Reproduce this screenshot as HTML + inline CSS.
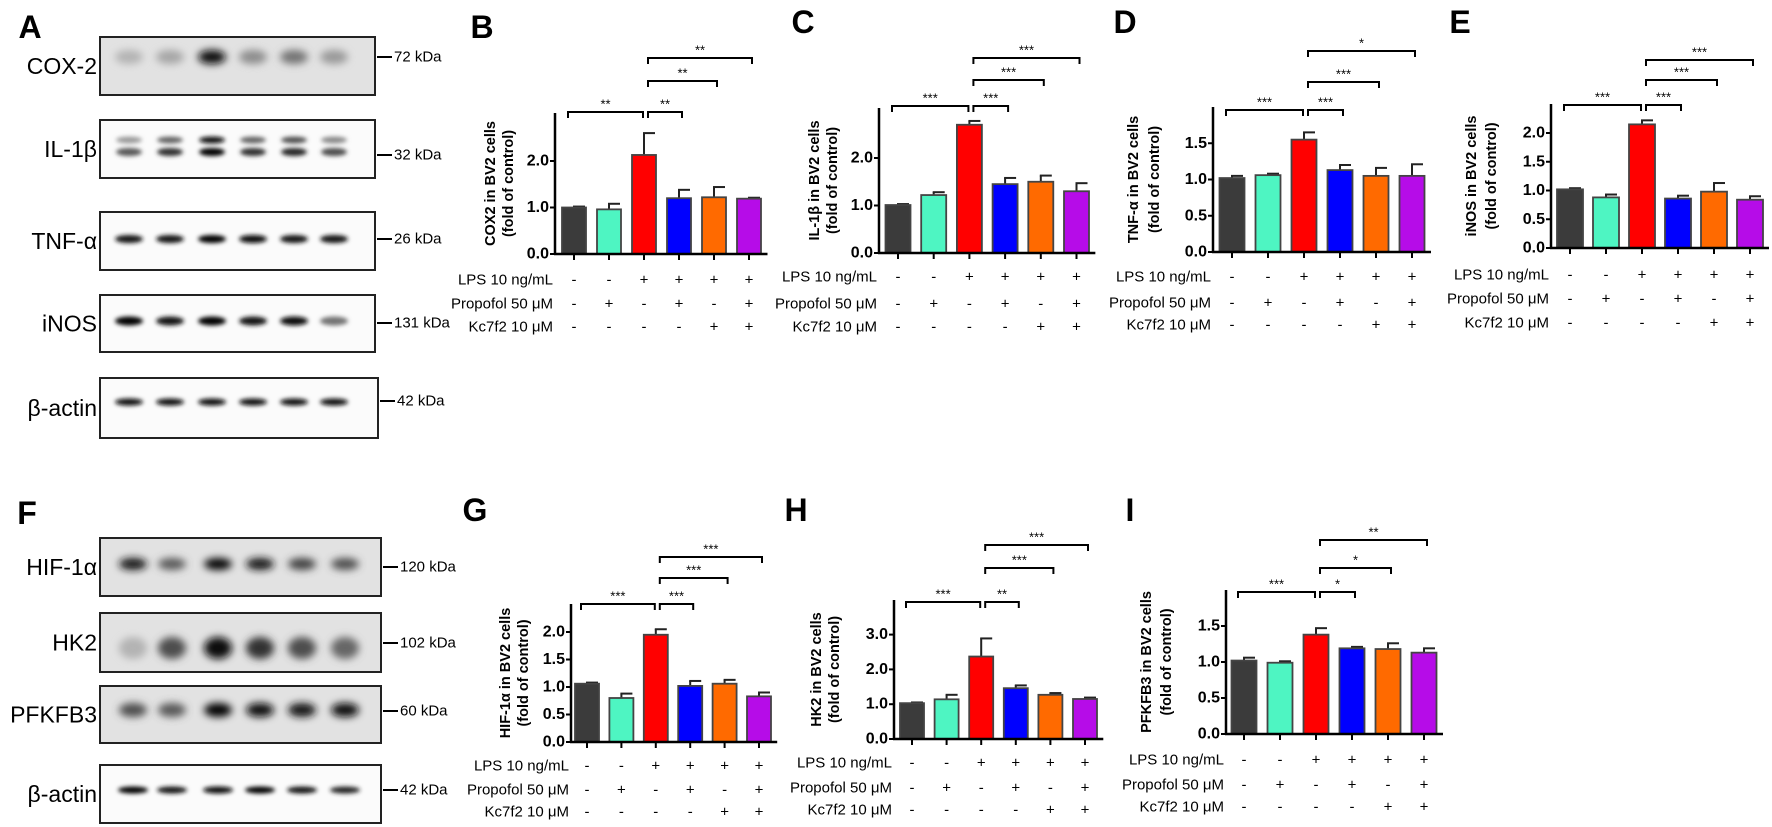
<!DOCTYPE html>
<html><head><meta charset="utf-8"><style>
html,body{margin:0;padding:0;background:#fff;}
svg{display:block;font-family:"Liberation Sans",Arial,sans-serif;}
</style></head><body>
<svg id="fig" width="1772" height="827" viewBox="0 0 1772 827" xmlns="http://www.w3.org/2000/svg">
<defs>
<filter id="blur2" x="-50%" y="-100%" width="200%" height="300%"><feGaussianBlur stdDeviation="2"/></filter>
<filter id="blur4" x="-50%" y="-100%" width="200%" height="300%"><feGaussianBlur stdDeviation="4"/></filter>
</defs>
</svg>
<script>
// ---------- chart data ----------
const groups = ["Control","Propofol","LPS","LPS+Propofol","LPS+Kc7f2","LPS+Propofol+Kc7f2"];
const lpsSigns = ["-","-","+","+","+","+"];
const propofolSigns = ["-","+","-","+","-","+"];
const kc7f2Signs = ["-","-","-","-","+","+"];
const barColors = ["#3b3b3b","#4ef5c2","#ff0000","#0000ff","#ff6a00","#b60ce8"];

const bValues = [1.00,0.96,2.13,1.20,1.22,1.19];
const bErrors = [0.02,0.12,0.47,0.18,0.22,0.02];
const bTicks = [0,1,2];
const bTickLabels = ["0.0","1.0","2.0"];
const bStars = ["**","**","**","**"];

const cValues = [1.01,1.22,2.70,1.45,1.50,1.30];
const cErrors = [0.02,0.06,0.08,0.13,0.13,0.17];
const cTicks = [0,1,2];
const cTickLabels = ["0.0","1.0","2.0"];
const cStars = ["***","***","***","***"];

const dValues = [1.02,1.06,1.55,1.13,1.05,1.05];
const dErrors = [0.03,0.02,0.10,0.07,0.11,0.16];
const dTicks = [0,0.5,1,1.5];
const dTickLabels = ["0.0","0.5","1.0","1.5"];
const dStars = ["***","***","***","*"];

const eValues = [1.02,0.88,2.15,0.86,0.98,0.84];
const eErrors = [0.02,0.05,0.07,0.05,0.15,0.06];
const eTicks = [0,0.5,1,1.5,2];
const eTickLabels = ["0.0","0.5","1.0","1.5","2.0"];
const eStars = ["***","***","***","***"];

const gValues = [1.06,0.80,1.95,1.02,1.06,0.83];
const gErrors = [0.02,0.08,0.10,0.09,0.07,0.07];
const gTicks = [0,0.5,1,1.5,2];
const gTickLabels = ["0.0","0.5","1.0","1.5","2.0"];
const gStars = ["***","***","***","***"];

const hValues = [1.03,1.14,2.37,1.46,1.27,1.15];
const hErrors = [0.02,0.13,0.52,0.08,0.05,0.04];
const hTicks = [0,1,2,3];
const hTickLabels = ["0.0","1.0","2.0","3.0"];
const hStars = ["***","**","***","***"];

const iValues = [1.02,0.99,1.38,1.19,1.18,1.13];
const iErrors = [0.04,0.02,0.09,0.02,0.08,0.06];
const iTicks = [0,0.5,1,1.5];
const iTickLabels = ["0.0","0.5","1.0","1.5"];
const iStars = ["***","*","*","**"];

// blot band intensities (0..1) per lane
const cox2Bands = [0.3,0.35,0.95,0.45,0.55,0.4];
const il1bBands = [0.65,0.8,1.0,0.8,0.85,0.7];
const tnfBands = [0.9,0.9,1.0,0.95,0.9,0.9];
const inosBands = [1.0,0.9,1.0,0.9,0.95,0.55];
const actinABands = [0.95,0.95,0.95,0.95,0.95,0.95];
const hifBands = [0.9,0.65,1.0,0.9,0.75,0.7];
const hk2Bands = [0.3,0.7,0.95,0.8,0.7,0.6];
const pfkBands = [0.7,0.65,1.0,0.95,0.9,0.95];
const actinFBands = [1.0,0.9,0.95,1.0,0.9,0.85];

// ---------- drawing ----------
const NS = "http://www.w3.org/2000/svg";
const svg = document.getElementById("fig");
function mk(tag, attrs, parent) {
  const e = document.createElementNS(NS, tag);
  for (const k in attrs) e.setAttribute(k, attrs[k]);
  (parent || svg).appendChild(e);
  return e;
}
function txt(str, attrs, parent) { const t = mk("text", attrs, parent); t.textContent = str; return t; }

function drawPanel(cfg, values, errors, ticks, tickLabels, stars) {
  const g = mk("g", {});
  
  
  const yScale = v => cfg.base - v * cfg.ppu;
  const xScale = i => cfg.x0 + i * cfg.step;
  const L = txt(cfg.id.toUpperCase(), {x: cfg.lx, y: cfg.ly, "font-size": 32, "font-weight": "bold", "text-anchor": "middle", "dominant-baseline": "central"}, g);
  
  
  values.forEach((v, i) => {
    const cx = xScale(i);
    const top = yScale(v);
    const eTop = yScale(v + errors[i]);
    const el = mk("line", {x1: cx, x2: cx, y1: top, y2: eTop, stroke: "#222", "stroke-width": 2}, g);
    
    
    const cap = mk("line", {x1: cx - 1, x2: cx + 11, y1: eTop, y2: eTop, stroke: "#222", "stroke-width": 2}, g);
    
    
    const r = mk("rect", {x: cx - cfg.bw / 2, y: top, width: cfg.bw, height: cfg.base - top, fill: barColors[i], stroke: "#444", "stroke-width": 1.8}, g);
    
    
    const tk = mk("line", {x1: cx, x2: cx, y1: cfg.base, y2: cfg.base + 6, stroke: "#000", "stroke-width": 2}, g);
    
    
  });
  const ya = mk("line", {x1: cfg.ax, x2: cfg.ax, y1: cfg.top, y2: cfg.base + 1, stroke: "#000", "stroke-width": 2.5}, g);
  
  
  const xa = mk("line", {x1: cfg.ax - 1, x2: xScale(5) + cfg.step / 2 + 1, y1: cfg.base, y2: cfg.base, stroke: "#000", "stroke-width": 2.5}, g);
  
  
  ticks.forEach((t, k) => {
    const y = yScale(t);
    const tl = mk("line", {x1: cfg.ax - 5, x2: cfg.ax, y1: y, y2: y, stroke: "#000", "stroke-width": 2}, g);
    
    
    const lab = txt(tickLabels[k], {x: cfg.ax - 6, y: y, "font-size": 16, "font-weight": "bold", "text-anchor": "end", "dominant-baseline": "central"}, g);
    
    
  });
  const mid = (cfg.top + cfg.base) / 2;
  const t1 = txt(cfg.title, {x: 0, y: 0, "font-size": 14.5, "font-weight": "bold", "text-anchor": "middle", "dominant-baseline": "central", transform: `translate(${cfg.ax + cfg.t1},${mid}) rotate(-90)`}, g);
  
  
  const t2 = txt("(fold of control)", {x: 0, y: 0, "font-size": 14.5, "font-weight": "bold", "text-anchor": "middle", "dominant-baseline": "central", transform: `translate(${cfg.ax + cfg.t2},${mid}) rotate(-90)`}, g);
  
  
  const pairs = [[0, 2], [2, 3], [2, 4], [2, 5]];
  const levels = [cfg.l1, cfg.l1, cfg.l2, cfg.l3];
  pairs.forEach((p, k) => {
    const x1 = k === 0 ? xScale(p[0]) - 6 : xScale(2) + 4;
    const x2 = k === 0 ? xScale(2) - 1 : xScale(p[1]) + 3;
    const y = levels[k];
    const br = mk("path", {d: `M${x1},${y + 6}V${y}H${x2}V${y + 6}`, fill: "none", stroke: "#000", "stroke-width": 2}, g);
    
    
    const st = txt(stars[k], {x: (x1 + x2) / 2, y: y - 8, "font-size": 13, "text-anchor": "middle", "dominant-baseline": "central"}, g);
    
    
  });
  const rows = [["LPS 10 ng/mL", lpsSigns], ["Propofol 50 μM", propofolSigns], ["Kc7f2 10 μM", kc7f2Signs]];
  rows.forEach((r, k) => {
    const y = cfg.rows[k];
    const lab = txt(r[0], {x: cfg.ax - 2, y: y, "font-size": 15, "text-anchor": "end", "dominant-baseline": "central"}, g);
    
    
    r[1].forEach((s, i) => {
      const sg = txt(s, {x: xScale(i), y: y, "font-size": 15, "text-anchor": "middle", "dominant-baseline": "central"}, g);
      
      
    });
  });
}

const panels = [
  [{id:"b", ax:555, x0:574, step:35, bw:24, base:254, ppu:46.5, top:113, lx:482, ly:27, t1:-64, t2:-46, title:"COX2 in BV2 cells", l1:112, l2:81, l3:58, rows:[280,304,327]}, bValues, bErrors, bTicks, bTickLabels, bStars],
  [{id:"c", ax:879, x0:898, step:35.7, bw:25, base:253, ppu:47.5, top:108, lx:803, ly:22, t1:-64, t2:-46, title:"IL-1β in BV2 cells", l1:106, l2:80, l3:58, rows:[277,304,327]}, cValues, cErrors, cTicks, cTickLabels, cStars],
  [{id:"d", ax:1213, x0:1232, step:36, bw:25, base:252, ppu:72.5, top:107, lx:1125, ly:22, t1:-79, t2:-58, title:"TNF-α in BV2 cells", l1:110, l2:82, l3:51, rows:[277,303,325]}, dValues, dErrors, dTicks, dTickLabels, dStars],
  [{id:"e", ax:1551, x0:1570, step:36, bw:26, base:248, ppu:57.5, top:104, lx:1460, ly:22, t1:-79, t2:-59, title:"iNOS in BV2 cells", l1:105, l2:80, l3:60, rows:[275,299,323]}, eValues, eErrors, eTicks, eTickLabels, eStars],
  [{id:"g", ax:571, x0:587, step:34.4, bw:24, base:742, ppu:55, top:604, lx:475, ly:510, t1:-65, t2:-47, title:"HIF-1α in BV2 cells", l1:604, l2:578, l3:557, rows:[766,790,812]}, gValues, gErrors, gTicks, gTickLabels, gStars],
  [{id:"h", ax:894, x0:912, step:34.6, bw:24, base:739, ppu:34.8, top:600, lx:796, ly:510, t1:-77, t2:-59, title:"HK2 in BV2 cells", l1:602, l2:568, l3:545, rows:[763,788,810]}, hValues, hErrors, hTicks, hTickLabels, hStars],
  [{id:"i", ax:1226, x0:1244, step:36, bw:25, base:734, ppu:72, top:590, lx:1130, ly:510, t1:-79, t2:-59, title:"PFKFB3 in BV2 cells", l1:592, l2:568, l3:540, rows:[760,785,807]}, iValues, iErrors, iTicks, iTickLabels, iStars]
];
panels.forEach(p => drawPanel(...p));

// ---------- western blots ----------
function drawBlot(name, label, kda, box, lanes, bandY, bandH, bandW, intens, fuzzy, double) {
  const g = mk("g", {});
  
  
  const bg = mk("rect", {x: box[0], y: box[1], width: box[2], height: box[3], fill: fuzzy ? "#e2e2e2" : "#fbfbfb", stroke: "#222", "stroke-width": 2}, g);
  
  
  intens.forEach((v, i) => {
    const c = Math.round(255 * (1 - v));
    const col = `rgb(${c},${c},${c})`;
    const b = mk("ellipse", {cx: lanes[i], cy: bandY, rx: bandW / 2, ry: bandH / 2, fill: col, filter: fuzzy ? "url(#blur4)" : "url(#blur2)"}, g);
    
    
    if (double) {
      const c2 = Math.round(255 * (1 - v * v * 0.95));
      const b2 = mk("ellipse", {cx: lanes[i], cy: bandY - 12, rx: bandW / 2, ry: bandH / 2.4, fill: `rgb(${c2},${c2},${c2})`, filter: "url(#blur2)"}, g);
      
      
    }
  });
  const lt = txt(label, {x: box[0] - 3, y: box[1] + box[3] / 2, "font-size": 23, "text-anchor": "end", "dominant-baseline": "central"}, g);
  
  
  const my = kda[1];
  const ml = mk("line", {x1: box[0] + box[2] + 2, x2: box[0] + box[2] + 17, y1: my, y2: my, stroke: "#000", "stroke-width": 2}, g);
  
  
  const mt = txt(kda[0], {x: box[0] + box[2] + 19, y: my, "font-size": 15, "dominant-baseline": "central"}, g);
  
  
}
const lanesA = [129,170,212,253,294,334];
const lanesF = [133,172,218,260,302,345];
drawBlot("cox2","COX-2",["72 kDa",57],[100,37,275,58],lanesA,57,14,28,cox2Bands,true,false);
drawBlot("il1b","IL-1β",["32 kDa",155],[100,120,275,58],lanesA,152,8,26,il1bBands,false,true);
drawBlot("tnf","TNF-α",["26 kDa",239],[100,212,275,58],lanesA,239,8,28,tnfBands,false,false);
drawBlot("inos","iNOS",["131 kDa",323],[100,295,275,57],lanesA,321,9,28,inosBands,false,false);
drawBlot("actin-a","β-actin",["42 kDa",401],[100,378,278,60],lanesA,402,7,28,actinABands,false,false);
drawBlot("hif1a","HIF-1α",["120 kDa",567],[100,538,281,58],lanesF,564,12,28,hifBands,true,false);
drawBlot("hk2","HK2",["102 kDa",643],[100,613,281,59],lanesF,648,22,28,hk2Bands,true,false);
drawBlot("pfkfb3","PFKFB3",["60 kDa",711],[100,686,281,57],lanesF,710,14,28,pfkBands,true,false);
drawBlot("actin-f","β-actin",["42 kDa",790],[100,765,281,58],lanesF,790,7,30,actinFBands,false,false);

const la = txt("A", {x: 30, y: 27, "font-size": 32, "font-weight": "bold", "text-anchor": "middle", "dominant-baseline": "central"});


const lf = txt("F", {x: 27, y: 513, "font-size": 32, "font-weight": "bold", "text-anchor": "middle", "dominant-baseline": "central"});


</script>
</body></html>
